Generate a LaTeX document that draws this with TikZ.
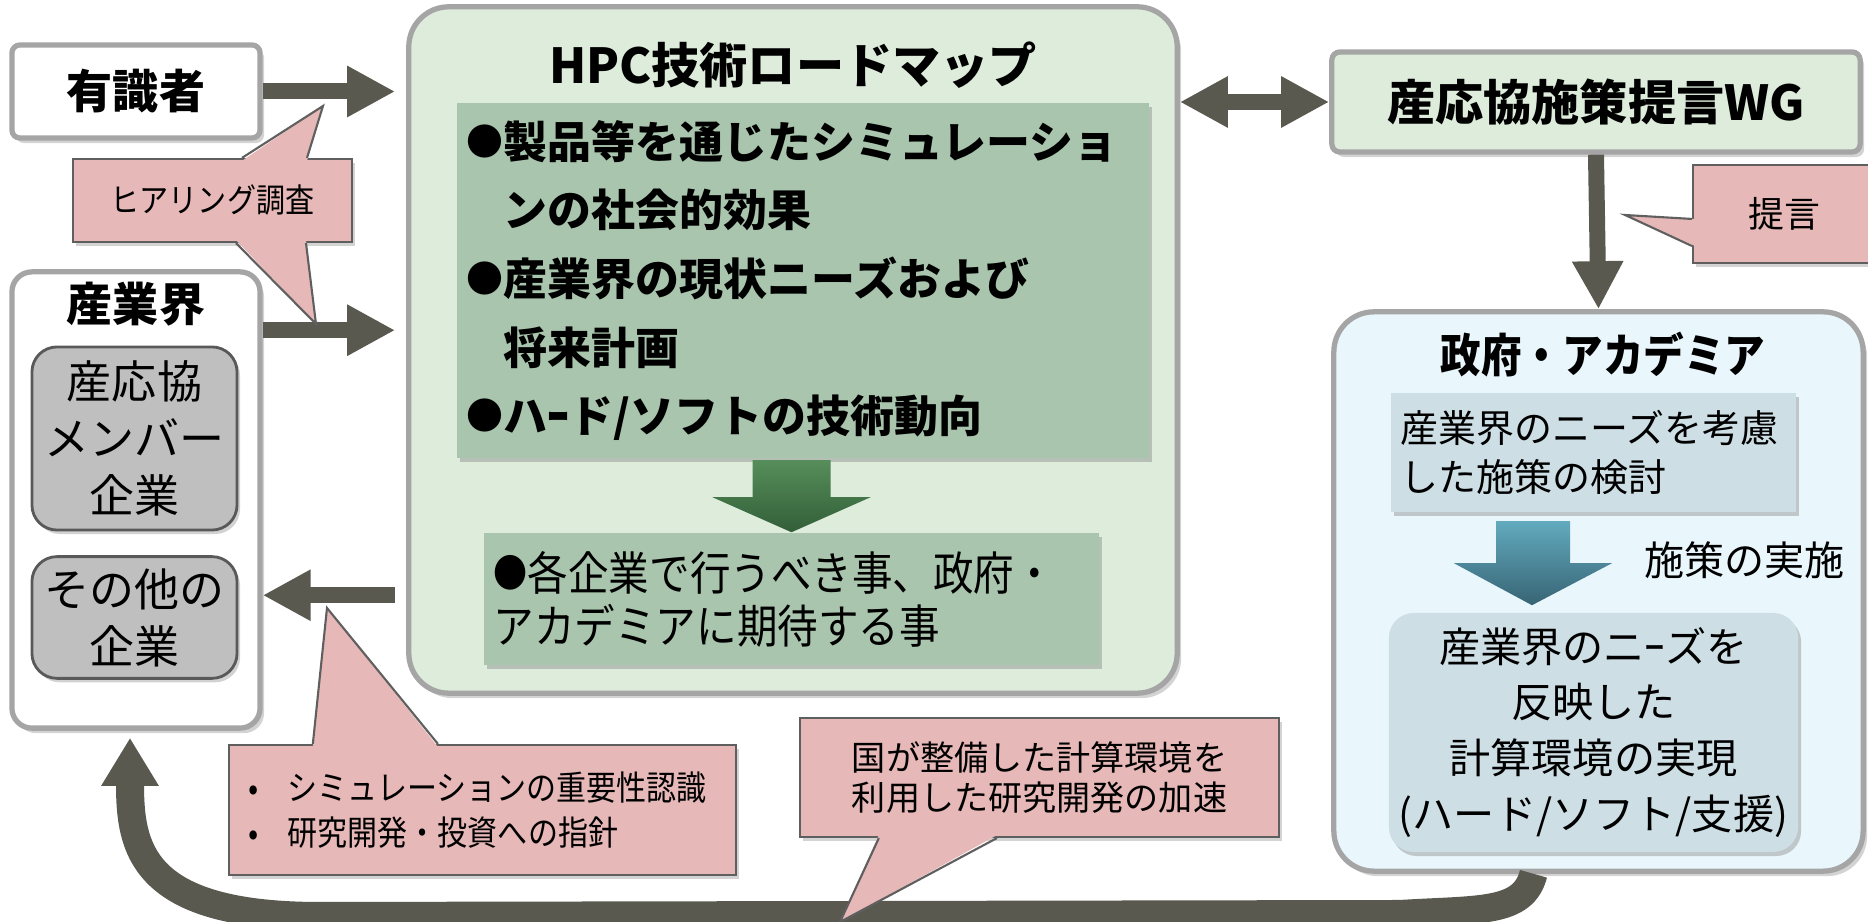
\documentclass[tikz,border=0pt]{standalone}
\usepackage{fontspec}
\setmainfont{Noto Sans CJK JP}
\newfontfamily\narrowjp[FakeStretch=0.88]{Noto Sans CJK JP}
\usetikzlibrary{arrows.meta,shadows,calc}

\definecolor{arrowgray}{RGB}{89,89,80}
\definecolor{notepink}{RGB}{230,184,183}
\definecolor{noteedge}{RGB}{95,95,95}
\definecolor{hpcgreen}{RGB}{221,236,219}
\definecolor{itemgreen}{RGB}{169,197,173}
\definecolor{govblue}{RGB}{233,247,252}
\definecolor{govpanel}{RGB}{205,222,229}
\definecolor{firmgray}{RGB}{191,191,191}
\definecolor{framegray}{RGB}{165,165,165}

\begin{document}
\begin{tikzpicture}[x=0.01cm, y=-0.01cm,
   outerbox/.style={draw=framegray, line width=1.5pt, fill=white, inner sep=0pt,
      drop shadow={shadow xshift=0.04cm, shadow yshift=-0.05cm, opacity=0.35}},
   panel/.style={inner sep=0.1cm, drop shadow={shadow xshift=0.03cm, shadow yshift=-0.04cm, opacity=0.4}},
   firm/.style={draw=black!65, fill=firmgray, rounded corners=0.25cm, line width=0.8pt, minimum width=2.05cm,
      align=center, font=\fontsize{12.8pt}{16.2pt}\selectfont,
      drop shadow={shadow xshift=0.03cm, shadow yshift=-0.04cm, opacity=0.35}},
   boxtitle/.style={font=\bfseries\fontsize{13.1pt}{15pt}\selectfont},
   memo/.style={fill=notepink, draw=noteedge, line width=0.6pt, inner sep=0.1cm,
      drop shadow={shadow xshift=0.03cm, shadow yshift=-0.04cm, opacity=0.35}},
   noteline/.style={draw=noteedge, line width=0.6pt, line join=miter},
   flow/.style={draw=arrowgray, line width=0.16cm, -{Triangle[width=0.48cm,length=0.48cm]}},
   loopback/.style={draw=arrowgray, line width=0.28cm, -{Triangle[width=0.54cm,length=0.48cm]}}]
   \useasboundingbox (0,0) rectangle (1868,922);

   % left column: experts and industry
   \node[outerbox, rounded corners=0.08cm, minimum width=2.48cm, minimum height=0.93cm, boxtitle] (experts) at (136,91.5) {有識者};
   \node[outerbox, rounded corners=0.2cm, minimum width=2.48cm, minimum height=4.56cm] (industry) at (136,500) {};
   \node[boxtitle] (industrytitle) at (136,304) {産業界};
   \node[firm, minimum height=1.83cm] (members) at (134.5,438.5) {産応協\\メンバー\\企業};
   \node[firm, minimum height=1.11cm] (others) at (134.5,617.5) {その他の\\企業};

   % roadmap in the middle
   \node[outerbox, fill=hpcgreen, rounded corners=0.4cm, minimum width=7.68cm, minimum height=6.86cm] (roadmap) at (793,350) {};
   \node[font=\bfseries\fontsize{13.7pt}{15pt}\selectfont] (roadmaptitle) at (793,65) {HPC技術ロードマップ};
   \node[panel, fill=itemgreen, minimum width=6.92cm, minimum height=3.55cm, text width=6.72cm, align=left,
      font=\bfseries\fontsize{12.5pt}{19.5pt}\selectfont] (items) at (803,280.5)
      {\raisebox{0.8pt}{\fontsize{10.5pt}{0pt}\selectfont ●}製品等を通じたシミュレーショ\\
       \phantom{\fontsize{10.5pt}{0pt}\selectfont ●}ンの社会的効果\\
       \raisebox{0.8pt}{\fontsize{10.5pt}{0pt}\selectfont ●}産業界の現状ニーズおよび\\
       \phantom{\fontsize{10.5pt}{0pt}\selectfont ●}将来計画\\
       \raisebox{0.8pt}{\fontsize{10.5pt}{0pt}\selectfont ●}ハｰド/ソフトの技術動向};
   \node[panel, fill=itemgreen, minimum width=6.15cm, minimum height=1.32cm, text width=5.95cm, align=left,
      font=\narrowjp\fontsize{13.1pt}{15.1pt}\selectfont] (todo) at (791.5,599)
      {\raisebox{0.8pt}{\fontsize{11pt}{0pt}\selectfont ●}各企業で行うべき事、政府・\\アカデミアに期待する事};
   \shade[top color={rgb,255:red,86;green,142;blue,90}, bottom color={rgb,255:red,50;green,94;blue,56}]
      (todo.north) -- ++(-79,-35) -- ++(40,0) -- ++(0,-37) -- ++(78,0) -- ++(0,37) -- ++(40,0) -- cycle;

   % working group and government
   \node[outerbox, fill=hpcgreen, rounded corners=0.08cm, minimum width=5.28cm, minimum height=1cm,
      font=\bfseries\fontsize{13.7pt}{15pt}\selectfont] (wg) at (1596,102) {産応協施策提言WG};
   \node[outerbox, fill=govblue, rounded corners=0.4cm, minimum width=5.29cm, minimum height=5.59cm] (gov) at (1598.5,591.5) {};
   \node[font=\narrowjp\bfseries\fontsize{13.1pt}{15pt}\selectfont] (govtitle) at (1603,355) {政府・アカデミア};
   \node[panel, fill=govpanel, minimum width=4.05cm, minimum height=1.19cm, text width=3.85cm, align=left,
      font=\fontsize{10.8pt}{14.2pt}\selectfont] (policy) at (1593.5,452.5) {産業界のニーズを考慮\\した施策の検討};
   \node[panel, fill=govpanel, rounded corners=0.25cm, minimum width=4.03cm, minimum height=2.39cm, align=center,
      font=\fontsize{11.7pt}{15.9pt}\selectfont] (realize) at (1593.5,732.5)
      {産業界のニｰズを\\反映した\\計算環境の実現\\(ハード/ソフト/支援)};
   \coordinate (bluetip) at ($(realize.north)+(-61.5,-7)$);
   \shade[top color={rgb,255:red,98;green,170;blue,190}, bottom color={rgb,255:red,55;green,100;blue,116}]
      (bluetip) -- ++(-78,-42) -- ++(42,0) -- ++(0,-42) -- ++(74,0) -- ++(0,42) -- ++(42,0) -- cycle;
   \node[anchor=west, font=\fontsize{11.4pt}{14pt}\selectfont] (enact) at (1632,560) {施策の実施};

   % connectors
   \draw[flow, shorten >=0.11cm] (experts.east) -- (experts.east -| roadmap.west);
   \draw[flow, shorten >=0.11cm] ($(industry.north east)+(0,61)$) -- ($(industry.north east -| roadmap.west)+(0,61)$);
   \draw[flow, shorten <=0.11cm] ($(industry.north east -| roadmap.west)+(0,326)$) -- ($(industry.north east)+(0,326)$);
   \draw[flow, {Triangle[width=0.48cm,length=0.48cm]}-{Triangle[width=0.48cm,length=0.48cm]}] (wg.west -| roadmap.east) -- (wg.west);
   \draw[flow] (wg.south) -- (gov.north);
   \draw[loopback] ([xshift=-0.65cm]gov.south) .. controls +(-10,40) and +(80,-5) .. (1400,914) -- (320,916)
      .. controls +(-180,0) and +(0,110) .. ([xshift=-0.06cm,yshift=-0.07cm]industry.south);

   % notes
   \node[memo, minimum width=2.79cm, minimum height=0.83cm, font=\narrowjp\fontsize{9.4pt}{12pt}\selectfont] (hearing) at (212.5,200.5) {ヒアリング調査};
   \node[memo, minimum width=5.07cm, minimum height=1.30cm, text width=4.87cm, align=left,
      font=\narrowjp\fontsize{9.7pt}{12.8pt}\selectfont] (guide) at (482.5,810)
      {\hspace*{0.1cm}\makebox[0.39cm][l]{•}シミュレーションの重要性認識\\\hspace*{0.1cm}\makebox[0.39cm][l]{•}研究開発・投資への指針};
   \node[memo, minimum width=4.79cm, minimum height=1.19cm, align=center, font=\fontsize{9.7pt}{11.4pt}\selectfont] (speedup) at (1039.5,777.5)
      {国が整備した計算環境を\\利用した研究開発の加速};
   \node[memo, minimum width=1.82cm, minimum height=0.98cm, font=\fontsize{10.2pt}{12pt}\selectfont] (proposal) at (1784,214) {提言};

   % pointer tips of the notes
   \coordinate (hearingup) at (323,106);
   \coordinate (hearingdown) at (316,324);
   \coordinate (guidetip) at (327,608);
   \coordinate (speeduptip) at (840,922);
   \coordinate (proposaltip) at (1625,215);
   \foreach \memo/\corner/\ax/\ay/\bx/\by/\ix/\iy/\tip in
      {hearing/north west/1.70/0/2.35/0/0/-0.03/hearingup,
       hearing/south west/1.64/0/2.34/0/0/0.03/hearingdown,
       guide/north west/0.85/0/2.10/0/0/-0.03/guidetip,
       speedup/south west/0.80/0/1.98/0/0/0.03/speeduptip,
       proposal/north west/0/-0.55/0/-0.82/0.03/0/proposaltip}
   {
      \fill[notepink] ([xshift=\ax cm+\ix cm,yshift=\ay cm+\iy cm]\memo.\corner) -- (\tip)
         -- ([xshift=\bx cm+\ix cm,yshift=\by cm+\iy cm]\memo.\corner) -- cycle;
      \draw[noteline] ([xshift=\ax cm,yshift=\ay cm]\memo.\corner) -- (\tip) -- ([xshift=\bx cm,yshift=\by cm]\memo.\corner);
   }
\end{tikzpicture}
\end{document}
